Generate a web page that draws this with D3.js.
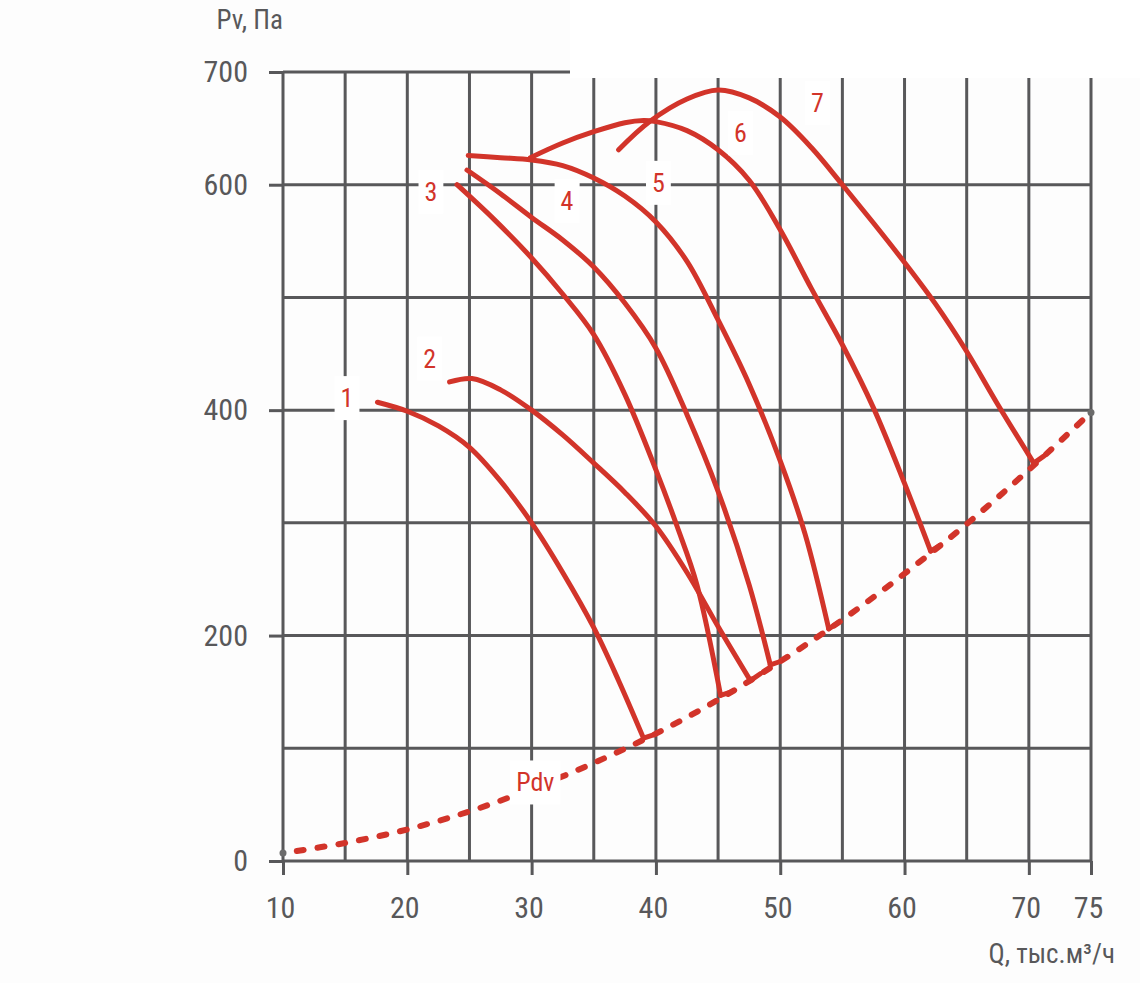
<!DOCTYPE html>
<html>
<head>
<meta charset="utf-8">
<script src="https://cdn.jsdelivr.net/npm/d3@7"></script>
<style>
  body { margin: 0; background: #fdfdfd; }
  svg text { font-family: "Liberation Sans Narrow", "Roboto Condensed", "DejaVu Sans Condensed", sans-serif; }
</style>
</head>
<body>
<div id="chart"></div>
<script>
// flow Q (thousand m3/h) and pressure Pv (Pa)
const qTicks = [10, 20, 30, 40, 50, 60, 70, 75];
const pTicks = [0, 200, 400, 600, 700];
const qGrid = [10, 15, 20, 25, 30, 35, 40, 45, 50, 55, 60, 65, 70, 75];
const pGrid = [0, 100, 200, 300, 400, 500, 600, 700];

const curve1 = [[17.6, 407], [20, 399], [22.5, 386], [25, 367], [27.5, 337], [30, 300], [32.5, 256], [35, 207], [37, 160], [39.0, 109]];
const curve2 = [[23.4, 425], [25.2, 428], [27.5, 418], [30, 400], [32.5, 378], [35, 353], [37.5, 327], [40, 297], [42.5, 256], [45, 208], [47.6, 160]];
const curve3 = [[24.0, 600], [27, 569], [30, 535], [32.5, 503], [35, 467], [37.5, 414], [40, 347], [41.7, 297], [43.3, 245], [45.2, 147]];
const curve4 = [[24.8, 613], [27.5, 592], [30, 571], [32.5, 551], [35, 527], [37.5, 495], [40, 455], [42.5, 396], [45, 328], [47.5, 245], [49.2, 174]];
const curve5 = [[24.9, 626], [27.5, 624], [30, 622], [32.5, 617], [35, 606], [37.5, 590], [40, 567], [42.5, 532], [45, 480], [47.5, 423], [50, 355], [52, 290], [53.9, 206]];
const curve6 = [[29.9, 624], [32.5, 637], [35, 647], [37.5, 655], [39, 657], [40, 656], [42.5, 648], [45, 631], [47.5, 604], [50, 560], [52.5, 508], [55, 458], [57.5, 402], [60, 335], [62.1, 275]];
const curve7 = [[37.0, 631], [39.5, 656], [42.5, 676], [45, 684], [47.5, 677], [50, 660], [52.5, 633], [55, 600], [57.5, 566], [60, 531], [62.5, 494], [65, 452], [67.5, 405], [70.4, 353]];
const curves = [curve1, curve2, curve3, curve4, curve5, curve6, curve7];

const pdvQ = [10, 15, 20, 25, 30, 35, 40, 45, 50, 55, 60, 65, 70, 75];
const pdvP = [7, 16, 28, 44, 64, 87, 113, 143, 177, 214, 255, 299, 347, 398];

const labels = [
  { t: "1", q: 15.15, p: 411 },
  { t: "2", q: 21.8, p: 446 },
  { t: "3", q: 21.9, p: 594 },
  { t: "4", q: 32.85, p: 586 },
  { t: "5", q: 40.2, p: 602 },
  { t: "6", q: 46.8, p: 646 },
  { t: "7", q: 53.0, p: 673 },
  { t: "Pdv", q: 30.3, p: 70 }
];

const red = "#d2342a";
const grey = "#58585a";

const svg = d3.select("#chart").append("svg")
  .attr("width", 1140)
  .attr("height", 983);

const x = d3.scaleLinear().domain([10, 75]).range([283, 1091]);
const y = d3.scaleLinear().domain([0, 700]).range([861, 72]);

// grid
svg.append("g").selectAll("line").data(qGrid).join("line")
  .attr("x1", d => x(d)).attr("x2", d => x(d))
  .attr("y1", y(700)).attr("y2", y(0))
  .attr("stroke", grey).attr("stroke-width", 3);
svg.append("g").selectAll("line").data(pGrid).join("line")
  .attr("x1", x(10)).attr("x2", x(75))
  .attr("y1", d => y(d)).attr("y2", d => y(d))
  .attr("stroke", grey).attr("stroke-width", 3);

// blank patch at the top right as in the original
svg.append("rect").attr("x", 570).attr("y", 0).attr("width", 570).attr("height", 78).attr("fill", "#ffffff");

// axes
const xAxis = svg.append("g")
  .attr("transform", "translate(0," + y(0) + ")")
  .call(d3.axisBottom(x).tickValues(qTicks).tickSize(14).tickPadding(22).tickFormat(d3.format("d")));
const yAxis = svg.append("g")
  .attr("transform", "translate(" + x(10) + ",0)")
  .call(d3.axisLeft(y).tickValues(pTicks).tickSize(14).tickPadding(21).tickFormat(d3.format("d")));
[xAxis, yAxis].forEach(a => {
  a.select(".domain").remove();
  a.selectAll(".tick line").attr("stroke", grey).attr("stroke-width", 3);
  a.selectAll(".tick text").attr("fill", grey).style("font-size", "30px");
});
xAxis.selectAll(".tick text").attr("dx", "-3");

svg.append("text")
  .attr("x", 283).attr("y", 29)
  .attr("text-anchor", "end")
  .attr("fill", grey).style("font-size", "27px")
  .text("Pv, Па");
svg.append("text")
  .attr("x", 1115).attr("y", 963)
  .attr("text-anchor", "end")
  .attr("fill", grey).style("font-size", "27px")
  .text("Q, тыс.м³/ч");

// Pdv dashed line
const line = d3.line().x(d => x(d[0])).y(d => y(d[1])).curve(d3.curveCatmullRom);
const pdv = pdvQ.map((q, i) => [q, pdvP[i]]);
svg.append("path")
  .attr("d", line(pdv))
  .attr("fill", "none")
  .attr("stroke", red).attr("stroke-width", 6)
  .attr("stroke-linecap", "round")
  .attr("stroke-dasharray", "7 14")
  .attr("stroke-dashoffset", -14);
svg.append("g").selectAll("circle").data([pdv[0], pdv[pdv.length - 1]]).join("circle")
  .attr("cx", d => x(d[0])).attr("cy", d => y(d[1]))
  .attr("r", 3.5).attr("fill", "#6b6b6b");

// fan curves
const pdvAt = d3.scaleLinear().domain(pdvQ).range(pdvP);
curves.forEach(c => {
  svg.append("path")
    .attr("d", line(c))
    .attr("fill", "none")
    .attr("stroke", red).attr("stroke-width", 5)
    .attr("stroke-linecap", "round");
  // short foot along the Pdv line
  const last = c[c.length - 1];
  const q2 = last[0] + 0.8;
  svg.append("path")
    .attr("d", d3.line().x(d => x(d[0])).y(d => y(d[1]))([last, [q2, pdvAt(q2)]]))
    .attr("fill", "none")
    .attr("stroke", red).attr("stroke-width", 5)
    .attr("stroke-linecap", "round");
});

// curve labels on white boxes
labels.forEach(l => {
  const g = svg.append("g");
  const t = g.append("text")
    .attr("x", x(l.q)).attr("y", y(l.p))
    .attr("dy", "0.36em")
    .attr("text-anchor", "middle")
    .attr("fill", red).style("font-size", "26px")
    .text(l.t);
  const b = t.node().getBBox();
  g.insert("rect", "text")
    .attr("x", b.x - 6).attr("y", b.y - 7)
    .attr("width", b.width + 12).attr("height", b.height + 14)
    .attr("fill", "#ffffff");
});
</script>
</body>
</html>
